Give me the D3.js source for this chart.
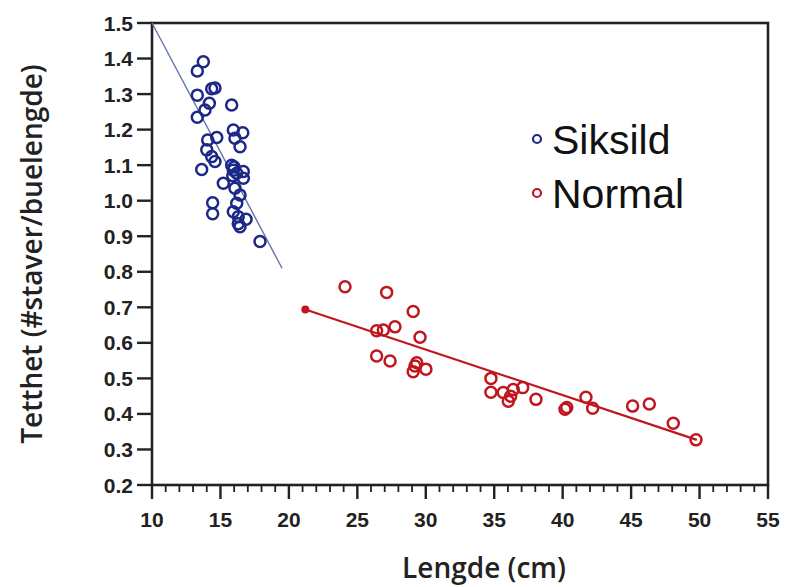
<!DOCTYPE html>
<html>
<head>
<meta charset="utf-8">
<script src="https://cdn.jsdelivr.net/npm/d3@7"></script>
<style>
  body { margin: 0; background: #fff; }
  svg { display: block; }
  .tick-label { font-family: 'Liberation Sans', Arial, sans-serif; font-weight: bold; font-size: 21px; fill: #222; }
  .axis-title { font-family: 'Open Sans', sans-serif; font-weight: 600; font-size: 28px; fill: #222; }
  .legend-text { font-family: 'Liberation Sans', Arial, sans-serif; font-size: 41px; fill: #111; }
</style>
</head>
<body>
<div id="chart"></div>
<script>
const width = 785;
const height = 587;
const margin = { top: 23, right: 17, bottom: 102, left: 152 };

// Siksild (blue) points: length (cm), density
const siksildX = [13.75, 13.31, 14.36, 14.60, 13.31, 14.19, 15.82, 13.87, 13.31, 15.94, 16.63, 14.07,
  14.73, 16.06, 16.43, 14.00, 14.36, 14.60, 13.63, 15.82, 15.94, 16.19, 16.67, 16.67, 15.21, 16.06,
  16.43, 16.19, 14.43, 14.43, 15.94, 16.30, 16.87, 16.43, 17.89, 16.00, 15.90, 16.30];
const siksildY = [1.391, 1.365, 1.315, 1.317, 1.297, 1.274, 1.269, 1.255, 1.235, 1.199, 1.191, 1.171,
  1.178, 1.176, 1.152, 1.143, 1.124, 1.110, 1.088, 1.100, 1.086, 1.077, 1.082, 1.063, 1.049, 1.035,
  1.016, 0.993, 0.994, 0.963, 0.969, 0.955, 0.948, 0.927, 0.885, 1.095, 1.070, 0.935];

// Normal (red) points
const normalX = [24.10, 27.14, 29.08, 27.75, 26.41, 26.90, 29.58, 26.41, 27.39, 29.34, 29.08, 30.01,
  29.21, 34.76, 34.76, 35.66, 36.03, 36.39, 37.08, 38.05, 40.17, 40.30, 41.70, 42.19, 45.11, 46.33,
  48.08, 49.74, 36.20];
const normalY = [0.758, 0.742, 0.688, 0.645, 0.634, 0.636, 0.616, 0.563, 0.549, 0.544, 0.519, 0.526,
  0.535, 0.500, 0.461, 0.460, 0.436, 0.469, 0.474, 0.441, 0.413, 0.418, 0.447, 0.416, 0.422, 0.428,
  0.374, 0.327, 0.450];

// fitted lines: [x0, y0, x1, y1]
const siksildFit = [10, 1.5, 19.5, 0.81];
const normalFit = [21.2, 0.694, 49.8, 0.327];

const xTicks = d3.range(10, 56, 5);
const yTicks = d3.range(2, 16).map(d => d / 10);
const legendItems = ['Siksild', 'Normal'];

const blue = '#1c2887';
const blueLine = '#6274aa';
const red = '#c0161f';

const svg = d3.select('#chart').append('svg')
  .attr('width', width)
  .attr('height', height);

const x = d3.scaleLinear().domain([10, 55]).range([margin.left, width - margin.right]);
const y = d3.scaleLinear().domain([0.2, 1.5]).range([height - margin.bottom, margin.top]);

// y axis ticks
svg.append('g')
  .selectAll('line')
  .data(yTicks)
  .join('line')
    .attr('x1', x(10) - 15)
    .attr('x2', x(10))
    .attr('y1', d => y(d))
    .attr('y2', d => y(d))
    .attr('stroke', '#222')
    .attr('stroke-width', 2.4);

svg.append('g')
  .selectAll('text')
  .data(yTicks)
  .join('text')
    .attr('class', 'tick-label')
    .attr('x', x(10) - 19)
    .attr('y', d => y(d))
    .attr('dy', '0.36em')
    .attr('text-anchor', 'end')
    .text(d => d3.format('.1f')(d));

// x axis ticks: minor every 1, major every 5
svg.append('g')
  .selectAll('line')
  .data(d3.range(10, 56))
  .join('line')
    .attr('x1', d => x(d))
    .attr('x2', d => x(d))
    .attr('y1', y(0.2))
    .attr('y2', d => y(0.2) + (d % 5 == 0 ? 14 : 7))
    .attr('stroke', '#222')
    .attr('stroke-width', d => d % 5 == 0 ? 2.4 : 1.8);

svg.append('g')
  .selectAll('text')
  .data(xTicks)
  .join('text')
    .attr('class', 'tick-label')
    .attr('x', d => x(d))
    .attr('y', y(0.2) + 42)
    .attr('text-anchor', 'middle')
    .text(d => d);

// frame
svg.append('rect')
  .attr('x', x(10))
  .attr('y', y(1.5))
  .attr('width', x(55) - x(10))
  .attr('height', y(0.2) - y(1.5))
  .attr('fill', 'none')
  .attr('stroke', '#222')
  .attr('stroke-width', 2.6);

// fit lines
svg.append('line')
  .attr('x1', x(siksildFit[0])).attr('y1', y(siksildFit[1]))
  .attr('x2', x(siksildFit[2])).attr('y2', y(siksildFit[3]))
  .attr('stroke', blueLine)
  .attr('stroke-width', 1.4);

svg.append('line')
  .attr('x1', x(normalFit[0])).attr('y1', y(normalFit[1]))
  .attr('x2', x(normalFit[2])).attr('y2', y(normalFit[3]))
  .attr('stroke', red)
  .attr('stroke-width', 2.2);

svg.append('circle')
  .attr('cx', x(normalFit[0]))
  .attr('cy', y(normalFit[1]))
  .attr('r', 4)
  .attr('fill', red);

// points
svg.append('g')
  .selectAll('circle')
  .data(d3.zip(siksildX, siksildY))
  .join('circle')
    .attr('cx', d => x(d[0]))
    .attr('cy', d => y(d[1]))
    .attr('r', 5.5)
    .attr('fill', 'none')
    .attr('stroke', blue)
    .attr('stroke-width', 2.5);

svg.append('g')
  .selectAll('circle')
  .data(d3.zip(normalX, normalY))
  .join('circle')
    .attr('cx', d => x(d[0]))
    .attr('cy', d => y(d[1]))
    .attr('r', 5.5)
    .attr('fill', 'none')
    .attr('stroke', red)
    .attr('stroke-width', 2.5);

// legend
const legend = svg.append('g')
  .selectAll('g')
  .data(legendItems)
  .join('g')
    .attr('transform', (d, i) => `translate(537, ${139 + i * 54})`);

legend.append('circle')
  .attr('r', 4)
  .attr('fill', 'none')
  .attr('stroke', (d, i) => i == 0 ? blue : red)
  .attr('stroke-width', 2.2);

legend.append('text')
  .attr('class', 'legend-text')
  .attr('x', 15)
  .attr('dy', '0.36em')
  .text(d => d);

// axis titles
svg.append('text')
  .attr('class', 'axis-title')
  .attr('transform', `translate(32, ${(y(1.5) + y(0.2)) / 2}) rotate(-90)`)
  .attr('text-anchor', 'middle')
  .attr('dy', '0.35em')
  .text('Tetthet (#staver/buelengde)');

svg.append('text')
  .attr('class', 'axis-title')
  .attr('x', 484)
  .attr('y', 578)
  .attr('text-anchor', 'middle')
  .text('Lengde (cm)');
</script>
</body>
</html>
